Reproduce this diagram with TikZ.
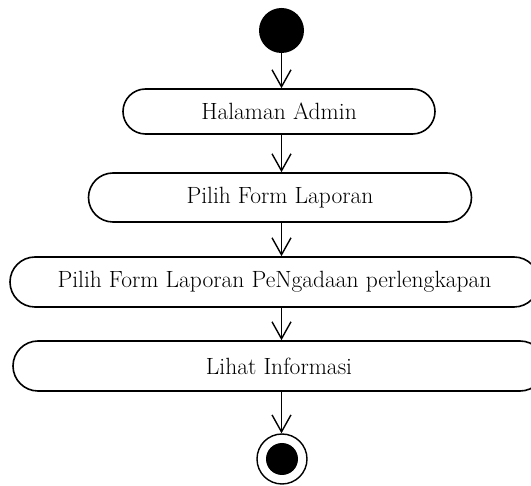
\documentclass[tikz,border=0pt]{standalone}
\usetikzlibrary{arrows.meta,shapes.misc}
\tikzset{
  act/.style={draw=black, line width=1.6pt, rounded rectangle, inner sep=0pt, font=\fontsize{23.5}{27}\selectfont},
  arr/.style={draw=black, line width=1.4pt, -{Straight Barb[length=17pt,width=19pt,line width=1.4pt]}},
}
\begin{document}
\begin{tikzpicture}[x=1pt,y=-1pt]
\useasboundingbox (0,0) rectangle (531,486);
\begin{scope}
\clip (0,0) rectangle (531,486);
\node[circle, fill=black, minimum size=45pt, inner sep=0pt] (s) at (281.5,30.5) {};
\node[act, minimum width=312pt, minimum height=45pt] (b1) at (279,111.5) {Halaman Admin};
\node[act, minimum width=383pt, minimum height=49pt] (b2) at (280,197.5) {Pilih Form Laporan};
\node[act, minimum width=529pt, minimum height=50pt] (b3) at (274.5,282) {Pilih Form Laporan PeNgadaan perlengkapan};
\node[act, minimum width=532pt, minimum height=50pt] (b4) at (279,366) {Lihat Informasi};
\node[circle, draw=black, line width=1.4pt, minimum size=50pt, inner sep=0pt] (e) at (282,459) {};
\node[circle, fill=black, minimum size=32pt, inner sep=0pt] (ei) at (282,459) {};
\draw[arr] (s.south) -- (s.south |- b1.north);
\draw[arr] (s.south |- b1.south) -- (s.south |- b2.north);
\draw[arr] (s.south |- b2.south) -- (s.south |- b3.north);
\draw[arr] (s.south |- b3.south) -- (s.south |- b4.north);
\draw[arr] (s.south |- b4.south) -- (s.south |- e.north);
\end{scope}
\end{tikzpicture}
\end{document}
